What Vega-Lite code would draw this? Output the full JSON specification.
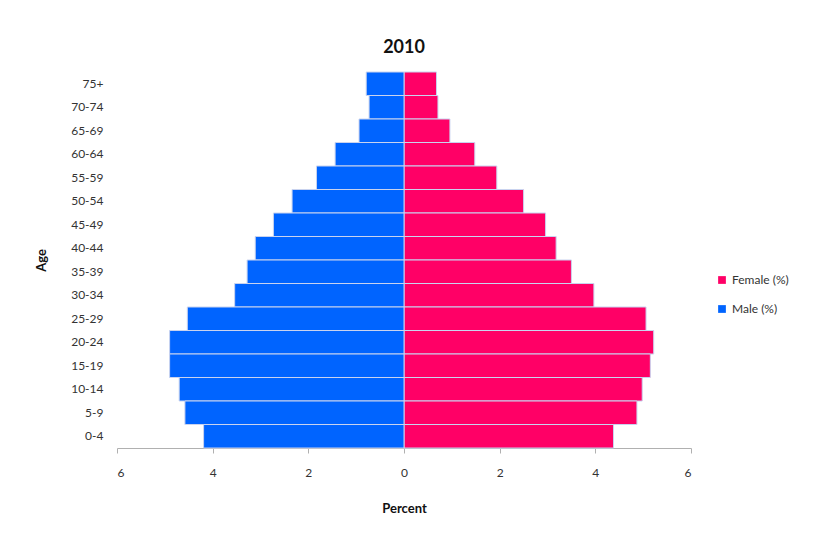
{
  "$schema": "https://vega.github.io/schema/vega-lite/v6.json",
  "autosize": {"type": "none"},
  "width": 574,
  "height": 376,
  "padding": {"left": 117, "top": 72, "right": 124, "bottom": 85},
  "background": "white",
  "title": {"text": "2010", "font": "Lato", "fontSize": 18, "fontWeight": "bold", "color": "#111", "offset": 15, "anchor": "middle"},
  "data": {"values": [
    {"age": "75+", "sex": "Female (%)", "percent": 0.68},
    {"age": "70-74", "sex": "Female (%)", "percent": 0.71},
    {"age": "65-69", "sex": "Female (%)", "percent": 0.96},
    {"age": "60-64", "sex": "Female (%)", "percent": 1.48},
    {"age": "55-59", "sex": "Female (%)", "percent": 1.94},
    {"age": "50-54", "sex": "Female (%)", "percent": 2.5},
    {"age": "45-49", "sex": "Female (%)", "percent": 2.96},
    {"age": "40-44", "sex": "Female (%)", "percent": 3.18},
    {"age": "35-39", "sex": "Female (%)", "percent": 3.5},
    {"age": "30-34", "sex": "Female (%)", "percent": 3.97},
    {"age": "25-29", "sex": "Female (%)", "percent": 5.06},
    {"age": "20-24", "sex": "Female (%)", "percent": 5.22},
    {"age": "15-19", "sex": "Female (%)", "percent": 5.15},
    {"age": "10-14", "sex": "Female (%)", "percent": 4.98},
    {"age": "5-9", "sex": "Female (%)", "percent": 4.87},
    {"age": "0-4", "sex": "Female (%)", "percent": 4.38},
    {"age": "75+", "sex": "Male (%)", "percent": 0.79},
    {"age": "70-74", "sex": "Male (%)", "percent": 0.73},
    {"age": "65-69", "sex": "Male (%)", "percent": 0.94},
    {"age": "60-64", "sex": "Male (%)", "percent": 1.44},
    {"age": "55-59", "sex": "Male (%)", "percent": 1.83},
    {"age": "50-54", "sex": "Male (%)", "percent": 2.34},
    {"age": "45-49", "sex": "Male (%)", "percent": 2.73},
    {"age": "40-44", "sex": "Male (%)", "percent": 3.11},
    {"age": "35-39", "sex": "Male (%)", "percent": 3.28},
    {"age": "30-34", "sex": "Male (%)", "percent": 3.54},
    {"age": "25-29", "sex": "Male (%)", "percent": 4.53},
    {"age": "20-24", "sex": "Male (%)", "percent": 4.9},
    {"age": "15-19", "sex": "Male (%)", "percent": 4.9},
    {"age": "10-14", "sex": "Male (%)", "percent": 4.7},
    {"age": "5-9", "sex": "Male (%)", "percent": 4.58},
    {"age": "0-4", "sex": "Male (%)", "percent": 4.19}
  ]},
  "transform": [
    {"calculate": "datum.sex == 'Male (%)' ? -datum.percent : datum.percent", "as": "signed"}
  ],
  "mark": {"type": "bar", "stroke": "#c9d3ef", "strokeWidth": 1},
  "encoding": {
    "y": {
      "field": "age", "type": "nominal",
      "sort": ["75+", "70-74", "65-69", "60-64", "55-59", "50-54", "45-49", "40-44", "35-39", "30-34", "25-29", "20-24", "15-19", "10-14", "5-9", "0-4"],
      "scale": {"paddingInner": 0, "paddingOuter": 0},
      "axis": {"title": "Age", "titleFont": "Lato", "titleFontSize": 13, "titleFontWeight": "bold", "titleColor": "#111", "titlePadding": 22,
               "labelFont": "Lato", "labelFontSize": 12, "labelColor": "#333", "labelPadding": 14, "ticks": false, "domain": false, "grid": false}
    },
    "x": {
      "field": "signed", "type": "quantitative",
      "scale": {"domain": [-6, 6], "nice": false},
      "axis": {"title": "Percent", "titleFont": "Lato", "titleFontSize": 13, "titleFontWeight": "bold", "titleColor": "#111", "titlePadding": 24,
               "values": [-6, -4, -2, 0, 2, 4, 6], "labelExpr": "abs(datum.value)",
               "labelFont": "Lato", "labelFontSize": 12, "labelColor": "#333", "labelPadding": 14,
               "grid": false, "domainColor": "#b0b0b0", "tickColor": "#b0b0b0", "tickSize": 5}
    },
    "color": {
      "field": "sex", "type": "nominal",
      "scale": {"domain": ["Female (%)", "Male (%)"], "range": ["#ff0066", "#0064ff"]},
      "legend": {"title": null, "orient": "none", "legendX": 599, "legendY": 202, "symbolType": "square", "symbolSize": 60, "symbolStrokeWidth": 0,
                 "labelFont": "Lato", "labelFontSize": 12, "labelColor": "#333", "rowPadding": 17}
    }
  },
  "config": {"view": {"stroke": null}}
}
